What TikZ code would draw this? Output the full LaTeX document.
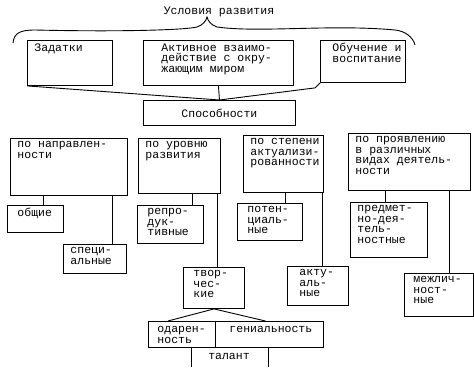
\documentclass[tikz,border=0pt]{standalone}
\usepackage{fontspec}
\newfontfamily\tw{Liberation Mono}
\usetikzlibrary{calc}

\begin{document}
\begin{tikzpicture}[x=1pt,y=-1pt,line width=0.9pt,
  font=\tw\fontsize{11.5}{10.5}\selectfont,
  cell/.style={draw,anchor=north west,inner sep=0pt},
  txt/.style={anchor=north west,align=left,inner xsep=7pt,inner ysep=3pt},
  link/.style={draw=black}]
\useasboundingbox (0,0) rectangle (474,367);
\node (title) at (219,12) {Условия развития};
% brace
\draw (13,43) .. controls (14,33) and (20,30) .. (35,30) .. controls (120,32) and (185,30) .. (197,27)
  .. controls (203,25) and (206,21) .. (207,17) .. controls (208,21) and (211,25) .. (217,27)
  .. controls (260,33) and (330,24) .. (395,30) .. controls (405,31) and (413,37) .. (415,45);
% conditions
\node[cell,minimum width=85pt,minimum height=45pt,label={[txt]north west:Задатки}] (zad) at (27,40) {};
\node[cell,minimum width=150pt,minimum height=45pt,label={[txt,xshift=11pt]north west:{Активное взаимо-\\действие с окру-\\жающим миром}}] (akt) at (143,40) {};
\node[cell,minimum width=85pt,minimum height=42pt,label={[txt,xshift=5pt]north west:{Обучение и\\воспитание}}] (obu) at (320,40) {};
\node[cell,minimum width=152pt,minimum height=25pt] (abil) at (143,100) {Способности};
\draw[link] (zad.south west) -- (abil.north);
\draw[link] (akt.south) -- (abil.north);
\draw[link] (obu.south west) -- ++(-5,5) -- (abil.north);
% kinds
\node[cell,minimum width=117pt,minimum height=57pt,label={[txt]north west:{по направлен-\\ности}}] (napr) at (10,138) {};
\node[cell,minimum width=82pt,minimum height=55pt,label={[txt]north west:{по уровню\\развития}}] (urov) at (138,138) {};
\node[cell,minimum width=80pt,minimum height=57pt,label={[txt]north west:{по степени\\актуализи-\\рованности}}] (stup) at (243,135) {};
\node[cell,minimum width=122pt,minimum height=57pt,label={[txt]north west:{по проявлению\\в различных\\видах деятель-\\ности}}] (prov) at (348,133) {};
% sub-kinds
\node[cell,minimum width=56pt,minimum height=27pt,label={[txt,xshift=3pt]north west:общие}] (obsh) at (7,205) {};
\node[cell,minimum width=63pt,minimum height=29pt,label={[txt]north west:{специ-\\альные}}] (spec) at (63,244) {};
\node[cell,minimum width=66pt,minimum height=38pt,label={[txt,xshift=3pt]north west:{репро-\\дук-\\тивные}}] (repr) at (137,205) {};
\node[cell,minimum width=61pt,minimum height=41pt,label={[txt,xshift=3pt]north west:{твор-\\чес-\\кие}}] (tvor) at (183,267) {};
\node[cell,minimum width=65pt,minimum height=37pt,label={[txt,xshift=3pt]north west:{потен-\\циаль-\\ные}}] (poten) at (237,203) {};
\node[cell,minimum width=61pt,minimum height=39pt,label={[txt,xshift=5pt]north west:{акту-\\аль-\\ные}}] (aktu) at (287,266) {};
\node[cell,minimum width=77pt,minimum height=55pt,label={[txt]north west:{предмет-\\но-дея-\\тель-\\ностные}}] (predm) at (350,202) {};
\node[cell,minimum width=69pt,minimum height=43pt,label={[txt,xshift=2pt]north west:{межлич-\\ност-\\ные}}] (mezh) at (404,273) {};
\draw[link] (napr.south -| 43,0) -- (obsh.north -| 43,0);
\draw[link] (napr.south -| 112,0) -- (spec.north -| 112,0);
\draw[link] (urov.south -| 192,0) -- (repr.north -| 192,0);
\draw[link] (urov.south -| 217,0) -- (tvor.north -| 217,0);
\draw[link] (stup.south -| 285,0) -- (poten.north -| 285,0);
\draw[link] (stup.south -| 322,0) -- (aktu.north -| 322,0);
\draw[link] (prov.south -| 385,0) -- (predm.north -| 385,0);
\draw[link] (prov.south -| 449,0) -- (mezh.north -| 449,0);
% gifts
\node[cell,minimum width=67pt,minimum height=26pt,label={[txt,xshift=2pt,inner ysep=5pt]north west:{одарен-\\ность}}] (odar) at (148,321) {};
\node[cell,minimum width=108pt,minimum height=26pt,label={[txt,xshift=7pt,inner ysep=5pt]north west:гениальность}] (gen) at (215,321) {};
\draw[link] (tvor.south) -- ([xshift=-14pt]odar.north);
\draw[link] (tvor.south) -- ([xshift=-4pt]gen.north);
\node (talant) at (229,356) {талант};
\coordinate (talL) at (191,367);
\coordinate (talR) at (268,367);
\draw[link] (talL |- odar.south) -- (talL);
\draw[link] (talR |- gen.south) -- (talR);
\end{tikzpicture}
\end{document}
